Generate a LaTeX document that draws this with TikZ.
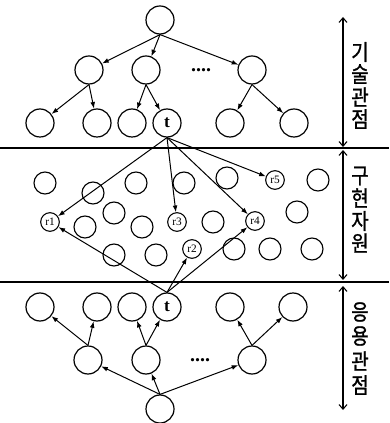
\documentclass[tikz,border=0pt]{standalone}
\usepackage{fontspec}
\setmainfont{Liberation Serif}
\newfontfamily\kr[AutoFakeBold=1.2]{Noto Sans CJK KR}
\usetikzlibrary{arrows.meta}
\begin{document}
\begin{tikzpicture}[x=0.75pt,y=-0.75pt,
  big/.style={circle,draw,line width=0.9pt,minimum size=21pt,inner sep=0pt},
  mid/.style={circle,draw,line width=0.85pt,minimum size=16.5pt,inner sep=0pt},
  rn/.style={circle,draw,line width=0.8pt,minimum size=14pt,inner sep=0pt,font=\fontsize{8.5}{8.5}\selectfont},
  tn/.style={big,font=\fontsize{13}{13}\selectfont\bfseries},
  edge/.style={-{Latex[length=5pt,width=3.6pt]},line width=0.75pt},
  sepline/.style={line width=1.2pt},
  span/.style={{Straight Barb[length=3.5pt,width=6pt]}-{Straight Barb[length=3.5pt,width=6pt]},line width=0.8pt},
  kch/.style={font=\kr\bfseries\fontsize{15}{15}\selectfont,inner sep=0pt,yscale=1.1,xscale=0.95},
  dots/.style={font=\fontsize{15}{15}\selectfont\bfseries,inner sep=0pt}]
\useasboundingbox (0,0) rectangle (389,423);
% separators
\coordinate (l1a) at (0,148); \coordinate (l1b) at (389,148);
\coordinate (l2a) at (0,282); \coordinate (l2b) at (389,282);
\draw[sepline] (l1a) -- (l1b);
\draw[sepline] (l2a) -- (l2b);
% top tree
\node[big] (R) at (160,20) {};
\node[big] (A) at (89,70) {};
\node[big] (B) at (146,70) {};
\node[big] (C) at (252,70) {};
\node[dots] (dt) at (201,70) {....};
\node[big] (a1) at (40,123) {};
\node[big] (a2) at (97,123) {};
\node[big] (b1) at (132,123) {};
\node[tn] (T1) at (167,123) {t};
\node[big] (c1) at (230,123) {};
\node[big] (c2) at (294,123) {};
\draw[edge] (R.south) -- (A);
\draw[edge] (R.south) -- (B);
\draw[edge] (R.south) -- (C);
\draw[edge] (A.south) -- (a1);
\draw[edge] (A.south) -- (a2);
\draw[edge] (B.south) -- (b1);
\draw[edge] (B.south) -- (T1);
\draw[edge] (C.south) -- (c1);
\draw[edge] (C.south) -- (c2);
% middle resources
\node[mid] (m1) at (45,183) {};
\node[mid] (m2) at (93,193) {};
\node[mid] (m3) at (136,183) {};
\node[mid] (m4) at (184,183) {};
\node[mid] (m5) at (227,178) {};
\node[rn] (r5) at (275,180) {r5};
\node[mid] (m7) at (318,180) {};
\node[mid] (m8) at (114,213) {};
\node[rn] (r1) at (50,222) {r1};
\node[mid] (m10) at (85,227) {};
\node[mid] (m11) at (142,227) {};
\node[rn] (r3) at (177,222) {r3};
\node[mid] (m13) at (213,222) {};
\node[rn] (r4) at (255,221) {r4};
\node[mid] (m15) at (297,212) {};
\node[mid] (m16) at (114,255) {};
\node[mid] (m17) at (156,255) {};
\node[rn] (r2) at (192,249) {r2};
\node[mid] (m19) at (234,249) {};
\node[mid] (m20) at (270,249) {};
\node[mid] (m21) at (312,249) {};
\draw[edge] (T1.south) -- (r1);
\draw[edge] (T1.south) -- (r3);
\draw[edge] (T1.south) -- (r4);
\draw[edge] (T1.south) -- (r5);
% bottom tree
\node[big] (d1) at (40,307) {};
\node[big] (d2) at (97,307) {};
\node[big] (e1) at (132,307) {};
\node[tn] (T2) at (167,307) {t};
\node[big] (f1) at (230,307) {};
\node[big] (f2) at (293,307) {};
\node[big] (D) at (88,360) {};
\node[big] (E) at (146,360) {};
\node[big] (F) at (252,360) {};
\node[dots] (db) at (200,360) {....};
\node[big] (R2) at (160,409) {};
\draw[edge] (T2.north) -- (r1);
\draw[edge] (T2.north) -- (r2);
\draw[edge] (T2.north) -- (r4);
\draw[edge] (D.north) -- (d1);
\draw[edge] (D.north) -- (d2);
\draw[edge] (E.north) -- (e1);
\draw[edge] (E.north) -- (T2);
\draw[edge] (F.north) -- (f1);
\draw[edge] (F.north) -- (f2);
\draw[edge] (R2.north) -- (D);
\draw[edge] (R2.north) -- (E);
\draw[edge] (R2.north) -- (F);
% right column
\coordinate (v1a) at (343,17); \coordinate (v1b) at (343,147);
\coordinate (v2a) at (343,150); \coordinate (v2b) at (343,280);
\coordinate (v3a) at (343,286); \coordinate (v3b) at (343,410);
\draw[span] (v1a) -- (v1b);
\draw[span] (v2a) -- (v2b);
\draw[span] (v3a) -- (v3b);
\node[kch] (k1) at (360,52) {기};
\node[kch] (k2) at (360,74) {술};
\node[kch] (k3) at (360,97) {관};
\node[kch] (k4) at (360,119) {점};
\node[kch] (k5) at (360,176) {구};
\node[kch] (k6) at (360,198) {현};
\node[kch] (k7) at (360,221) {자};
\node[kch] (k8) at (360,243) {원};
\node[kch] (k9) at (360,312) {응};
\node[kch] (k10) at (360,336) {용};
\node[kch] (k11) at (360,361) {관};
\node[kch] (k12) at (360,385) {점};
\end{tikzpicture}
\end{document}
